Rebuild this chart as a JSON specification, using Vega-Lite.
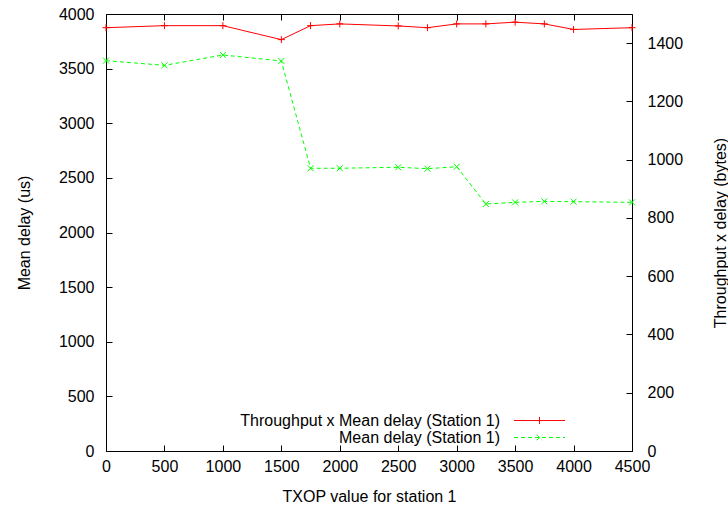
{
  "$schema": "https://vega.github.io/schema/vega-lite/v6.json",
  "width": 526,
  "height": 437,
  "autosize": {"type": "none"},
  "padding": {"left": 106, "top": 14, "right": 96, "bottom": 56},
  "background": "white",
  "config": {
    "font": "Liberation Sans",
    "view": {"stroke": "black", "strokeWidth": 1},
    "axis": {
      "grid": false,
      "domain": false,
      "tickColor": "black",
      "tickSize": -6,
      "tickWidth": 1,
      "labelColor": "black",
      "labelFontSize": 16,
      "labelFont": "Liberation Sans",
      "labelFlush": false,
      "labelOverlap": false,
      "format": "d",
      "titleColor": "black",
      "titleFontSize": 16,
      "titleFontWeight": "normal",
      "titleFont": "Liberation Sans"
    },
    "legend": {
      "orient": "none",
      "legendX": 425,
      "legendY": 398,
      "padding": 0,
      "labelAlign": "right",
      "labelOffset": -48,
      "labelLimit": 0,
      "labelFontSize": 16,
      "labelFont": "Liberation Sans",
      "labelColor": "black",
      "symbolSize": 256,
      "symbolStrokeWidth": 1,
      "rowPadding": 0,
      "title": null
    }
  },
  "data": {
    "values": [
      {"txop": 0, "series": "Throughput x Mean delay (Station 1)", "value": 1453},
      {"txop": 500, "series": "Throughput x Mean delay (Station 1)", "value": 1460},
      {"txop": 1000, "series": "Throughput x Mean delay (Station 1)", "value": 1460},
      {"txop": 1500, "series": "Throughput x Mean delay (Station 1)", "value": 1412},
      {"txop": 1750, "series": "Throughput x Mean delay (Station 1)", "value": 1460},
      {"txop": 2000, "series": "Throughput x Mean delay (Station 1)", "value": 1466},
      {"txop": 2500, "series": "Throughput x Mean delay (Station 1)", "value": 1459},
      {"txop": 2750, "series": "Throughput x Mean delay (Station 1)", "value": 1453},
      {"txop": 3000, "series": "Throughput x Mean delay (Station 1)", "value": 1466},
      {"txop": 3250, "series": "Throughput x Mean delay (Station 1)", "value": 1466},
      {"txop": 3500, "series": "Throughput x Mean delay (Station 1)", "value": 1472},
      {"txop": 3750, "series": "Throughput x Mean delay (Station 1)", "value": 1466},
      {"txop": 4000, "series": "Throughput x Mean delay (Station 1)", "value": 1447},
      {"txop": 4500, "series": "Throughput x Mean delay (Station 1)", "value": 1453},
      {"txop": 0, "series": "Mean delay (Station 1)", "value": 3573},
      {"txop": 500, "series": "Mean delay (Station 1)", "value": 3530},
      {"txop": 1000, "series": "Mean delay (Station 1)", "value": 3625},
      {"txop": 1500, "series": "Mean delay (Station 1)", "value": 3570},
      {"txop": 1750, "series": "Mean delay (Station 1)", "value": 2588},
      {"txop": 2000, "series": "Mean delay (Station 1)", "value": 2588},
      {"txop": 2500, "series": "Mean delay (Station 1)", "value": 2597},
      {"txop": 2750, "series": "Mean delay (Station 1)", "value": 2584},
      {"txop": 3000, "series": "Mean delay (Station 1)", "value": 2602},
      {"txop": 3250, "series": "Mean delay (Station 1)", "value": 2261},
      {"txop": 3500, "series": "Mean delay (Station 1)", "value": 2276},
      {"txop": 3750, "series": "Mean delay (Station 1)", "value": 2285},
      {"txop": 4000, "series": "Mean delay (Station 1)", "value": 2282},
      {"txop": 4500, "series": "Mean delay (Station 1)", "value": 2276}
    ]
  },
  "layer": [
    {
      "transform": [{"filter": "datum.series === 'Throughput x Mean delay (Station 1)'"}],
      "encoding": {
        "x": {
          "field": "txop", "type": "quantitative",
          "scale": {"domain": [0, 4500], "nice": false, "zero": false},
          "axis": {
            "orient": "bottom",
            "values": [0, 500, 1000, 1500, 2000, 2500, 3000, 3500, 4000, 4500],
            "labelPadding": 13,
            "title": "TXOP value for station 1",
            "titlePadding": 14
          }
        },
        "y": {
          "field": "value", "type": "quantitative",
          "scale": {"domain": [0, 1500], "nice": false},
          "axis": {
            "orient": "right",
            "values": [0, 200, 400, 600, 800, 1000, 1200, 1400],
            "labelPadding": 21,
            "title": "Throughput x delay (bytes)",
            "titleAngle": -90,
            "titlePadding": 46
          }
        }
      },
      "layer": [
        {
          "mark": {"type": "line", "strokeWidth": 1},
          "encoding": {
            "color": {
              "field": "series", "type": "nominal",
              "scale": {"domain": ["Throughput x Mean delay (Station 1)", "Mean delay (Station 1)"], "range": ["#ff0000", "#00ff00"]},
              "legend": {
                "encode": {
                  "symbols": {
                    "update": {
                      "shape": {"signal": "datum.value === 'Mean delay (Station 1)' ? 'M-3.19,0H3.19M-0.34,-0.34L0.34,0.34M-0.34,0.34L0.34,-0.34' : 'M-3.19,0H3.19M0,-0.44V0.44'"},
                      "stroke": [{"test": "datum.value === 'Mean delay (Station 1)'", "value": "#00ff00"}, {"value": "#ff0000"}],
                      "strokeDash": [{"test": "datum.value === 'Mean delay (Station 1)'", "value": [4, 3]}, {"value": [1, 0]}],
                      "strokeOpacity": {"value": 1},
                      "fill": {"value": "transparent"},
                      "opacity": {"value": 1}
                    }
                  }
                }
              }
            }
          }
        },
        {
          "mark": {"type": "point", "shape": "M-1,0H1M0,-1V1", "size": 49, "filled": false, "color": "#ff0000", "strokeWidth": 1, "opacity": 1}
        }
      ]
    },
    {
      "transform": [{"filter": "datum.series === 'Mean delay (Station 1)'"}],
      "encoding": {
        "x": {
          "field": "txop", "type": "quantitative",
          "scale": {"domain": [0, 4500], "nice": false, "zero": false},
          "axis": {
            "orient": "top",
            "values": [0, 500, 1000, 1500, 2000, 2500, 3000, 3500, 4000, 4500],
            "labels": false,
            "title": null
          }
        },
        "y": {
          "field": "value", "type": "quantitative",
          "scale": {"domain": [0, 4000], "nice": false},
          "axis": {
            "orient": "left",
            "values": [0, 500, 1000, 1500, 2000, 2500, 3000, 3500, 4000],
            "labelPadding": 18,
            "title": "Mean delay (us)",
            "titlePadding": 26
          }
        }
      },
      "layer": [
        {
          "mark": {"type": "line", "strokeWidth": 1, "color": "#00ff00", "strokeDash": [4, 3]}
        },
        {
          "mark": {"type": "point", "shape": "M-1,-1L1,1M-1,1L1,-1", "size": 36, "filled": false, "color": "#00ff00", "strokeWidth": 1, "opacity": 1}
        }
      ]
    }
  ],
  "resolve": {"scale": {"y": "independent"}, "axis": {"x": "independent", "y": "independent"}}
}
